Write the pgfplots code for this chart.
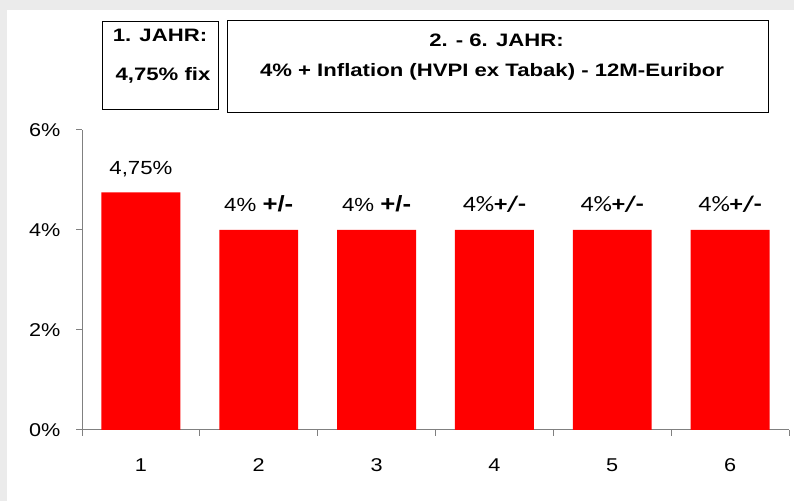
\documentclass[border=0pt]{standalone}
\usepackage{fontspec}
\setmainfont{Liberation Sans}[FakeStretch=1.17]
\newfontfamily\hdr{Liberation Sans}[FakeStretch=1.23]
\newfontfamily\carl{Carlito}[FakeStretch=1.17]
\usepackage{pgfplots}
\pgfplotsset{compat=1.18}
\definecolor{framegray}{HTML}{EBEBEB}
\definecolor{axisgray}{HTML}{808080}
\newcommand{\plusminus}{{\fontsize{22bp}{22bp}\selectfont\bfseries +/-}}
\newcommand{\calib}{\carl\fontsize{22bp}{22bp}\selectfont}
\begin{document}
\begin{tikzpicture}[x=1bp,y=1bp]
\useasboundingbox (0,0) rectangle (794,501);
\fill[framegray] (0,0) rectangle (794,501);
\fill[white] (7,0) rectangle (794,491);
% header boxes
\draw[black, line width=1bp] (102,391) rectangle (218,479);
\draw[black, line width=1bp] (227,388) rectangle (768,480);
\begin{scope}[every node/.style={anchor=base, inner sep=0pt, font=\hdr\bfseries\fontsize{18bp}{20bp}\selectfont}]
\node at (160,459) {1. JAHR:};
\node at (163,420.5) {4,75\% fix};
\node at (496.5,454.5) {2. - 6. JAHR:};
\node at (492,424) {4\% + Inflation (HVPI ex Tabak) - 12M-Euribor};
\end{scope}
\begin{axis}[
  at={(82bp,71bp)}, anchor=south west,
  scale only axis, width=707bp, height=300bp,
  xmin=0.5, xmax=6.5, ymin=0, ymax=6,
  axis x line*=bottom, axis y line*=left,
  axis line style={axisgray, line width=1bp},
  tick style={axisgray, line width=1bp},
  tick align=outside, tick pos=left,
  major tick length=6bp,
  xtick={0.5,1.5,...,6.5},
  x tick label as interval,
  xticklabels={1,2,3,4,5,6},
  ytick={0,2,4,6},
  yticklabels={0\%,2\%,4\%,6\%},
  ticklabel style={font=\fontsize{18.5bp}{20bp}\selectfont, text=black},
  xticklabel style={yshift=-19bp},
  yticklabel style={xshift=-12bp},
]
\addplot[ybar, fill=red, draw=none, bar width=0.67,
  point meta=explicit symbolic,
  nodes near coords,
  nodes near coords style={anchor=base, inner sep=0pt, yshift=18bp,
    font=\fontsize{19bp}{21bp}\selectfont, text=black}]
coordinates {
(1,4.75) [{4,75\%}]
(2,4) [{4\% \plusminus}]
(3,4) [{4\% \plusminus}]
(4,4) [{\calib 4\%\textbf{+/-}}]
(5,4) [{\calib 4\%\textbf{+/-}}]
(6,4) [{\calib 4\%\textbf{+/-}}]
};
\end{axis}
\end{tikzpicture}
\end{document}
